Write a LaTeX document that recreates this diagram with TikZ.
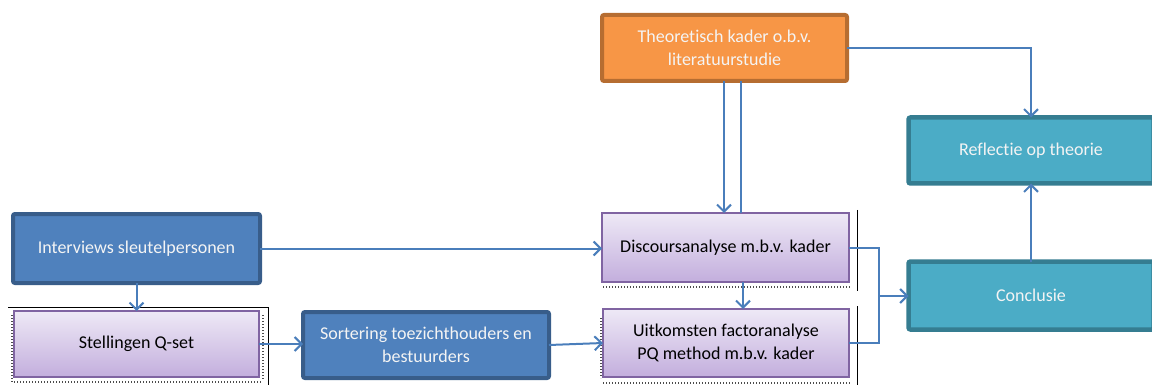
\documentclass[tikz,border=0pt]{standalone}
\usepackage{fontspec}
\setmainfont{Carlito}[Ligatures=NoCommon]
\usetikzlibrary{arrows.meta,calc}
\definecolor{orfill}{HTML}{F79646}
\definecolor{ordraw}{HTML}{B66D31}
\definecolor{blfill}{HTML}{4F81BD}
\definecolor{bldraw}{HTML}{385D8A}
\definecolor{tefill}{HTML}{4BACC6}
\definecolor{tedraw}{HTML}{357D91}
\definecolor{putop}{HTML}{EEE9F6}
\definecolor{pubot}{HTML}{C3AEDD}
\definecolor{pudraw}{HTML}{8064A2}
\definecolor{conn}{HTML}{4A7EBB}
\definecolor{wtext}{HTML}{F4F4F4}
\tikzset{
  boxbase/.style={rectangle, rounded corners=2pt, align=center, inner sep=0pt, outer sep=0pt, font=\fontsize{18}{23}\selectfont},
  orbox/.style={boxbase, fill=orfill, draw=ordraw, line width=4pt, text=wtext},
  blbox/.style={boxbase, fill=blfill, draw=bldraw, line width=4pt, text=wtext},
  tebox/.style={boxbase, fill=tefill, draw=tedraw, line width=4.5pt, text=wtext},
  pubox/.style={boxbase, rounded corners=0pt, top color=putop, bottom color=pubot, draw=pudraw, line width=2.5pt, text=black},
  conline/.style={draw=conn, line width=2pt},
  conarrow/.style={conline, -{Straight Barb[length=7pt,width=14pt]}},
  frameline/.style={draw=black, line width=0.8pt},
  dotline/.style={draw=black!70, line width=1.2pt, dash pattern=on 1pt off 2pt}
}
\begin{document}
\begin{tikzpicture}[x=1pt,y=-1pt]
\useasboundingbox (0,0) rectangle (1152,385);
\clip (0,0) rectangle (1152,385);
% nodes
\node[orbox, minimum width=245pt, minimum height=66pt] (theo) at (724.5,48) {Theoretisch kader o.b.v.\\literatuurstudie};
\node[tebox, minimum width=245pt, minimum height=66pt] (refl) at (1031,150.5) {Reflectie op theorie};
\node[tebox, minimum width=245pt, minimum height=68pt] (concl) at (1031,295.5) {Conclusie};
\node[blbox, minimum width=247pt, minimum height=69pt] (interv) at (136.5,248.5) {Interviews sleutelpersonen};
\node[pubox, minimum width=245pt, minimum height=66pt] (stell) at (136.5,344) {Stellingen Q-set};
\node[blbox, minimum width=246pt, minimum height=66pt] (sort) at (426,345) {Sortering toezichthouders en\\bestuurders};
\node[pubox, minimum width=247pt, minimum height=69pt] (disc) at (725.5,247.5) {Discoursanalyse m.b.v. kader};
\node[pubox, minimum width=246pt, minimum height=68pt] (uitk) at (726,343) {Uitkomsten factoranalyse\\PQ method m.b.v. kader};
% frame artefacts
\draw[frameline] (8,307) -- (268,307) -- (268,385);
\draw[dotline] (12,315) -- (12,382) -- (262,382);
\draw[dotline] (263,315) -- (263,380);
\draw[frameline] (857,210) -- (857,291);
\draw[dotline] (603,287) -- (851,287);
\draw[frameline] (857,306) -- (857,385);
\draw[dotline] (601,318) -- (601,378);
\draw[dotline] (603,383) -- (851,383);
% connectors
\coordinate (jn) at (879,296);
\draw[conarrow] (theo.south -| 724,0) -- (disc.north -| 724,0);
\draw[conline] (theo.south -| 741,0) -- (disc.north -| 741,0);
\draw[conarrow] (theo.east) -| (refl.north);
\draw[conarrow] (interv.east) -- (interv.east -| disc.west);
\draw[conarrow] (interv.south) -- (stell.north);
\draw[conarrow] (stell.east) -- (stell.east -| sort.west);
\draw[conarrow] (sort.east) -- (uitk.west);
\draw[conarrow] (disc.south -| 743,0) -- (uitk.north -| 743,0);
\draw[conline] (disc.east) -| (jn);
\draw[conline] (uitk.east) -| (jn);
\draw[conarrow] (jn) -- (jn -| concl.west);
\draw[conarrow] (concl.north) -- (refl.south);
\end{tikzpicture}
\end{document}
